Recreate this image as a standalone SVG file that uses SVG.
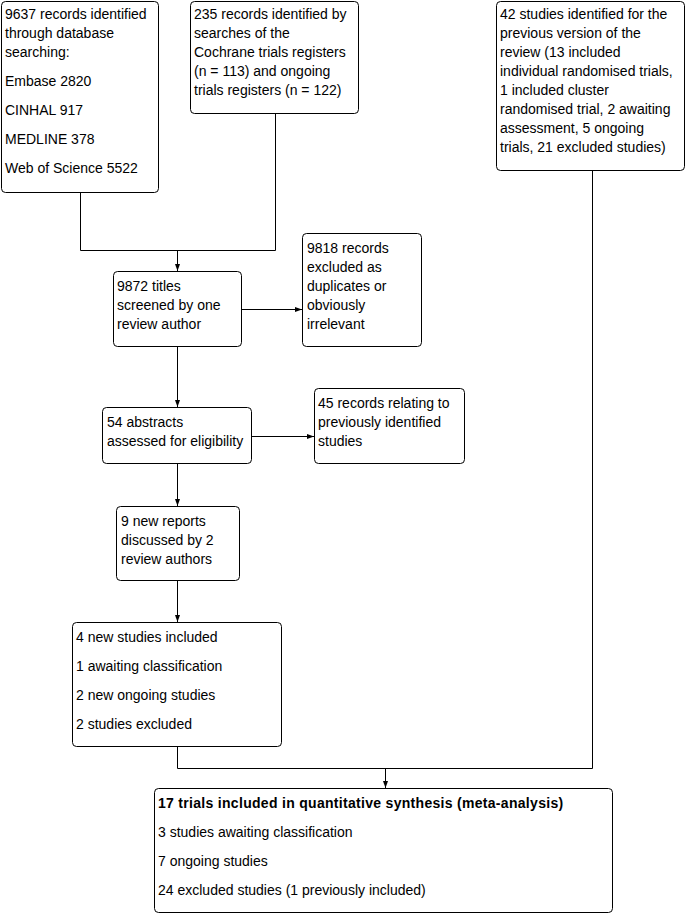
<svg xmlns="http://www.w3.org/2000/svg" width="686" height="914" viewBox="0 0 686 914">
<defs>
<style>
.box{fill:#fff;stroke:#000;stroke-width:1}
.t{font-family:"Liberation Sans",Arial,sans-serif;font-size:14px;fill:#000}
.b{font-weight:bold;letter-spacing:0.3px}
.c{fill:none;stroke:#000;stroke-width:1}
</style>
<marker id="ah" markerUnits="userSpaceOnUse" markerWidth="8" markerHeight="8" viewBox="0 0 8 8" refX="7" refY="4" orient="auto">
<path d="M0,1.5 L7,4 L0,6.5 Z" fill="#000"/>
</marker>
</defs>
<rect width="686" height="914" fill="#fff"/>
<g id="connectors">
<path class="c" d="M80.5 192.5 V250.5 H275.5 V113.5"/>
<path class="c" d="M177.5 250.5 V271" marker-end="url(#ah)"/>
<path class="c" d="M241.5 309.5 H302" marker-end="url(#ah)"/>
<path class="c" d="M177.5 346.5 V407" marker-end="url(#ah)"/>
<path class="c" d="M251.5 436.5 H314" marker-end="url(#ah)"/>
<path class="c" d="M177.5 463.5 V506" marker-end="url(#ah)"/>
<path class="c" d="M177.5 580.5 V622" marker-end="url(#ah)"/>
<path class="c" d="M177.5 746.5 V768.5 H592.5 V170.5"/>
<path class="c" d="M385.5 768.5 V788" marker-end="url(#ah)"/>
</g>
<g id="n1">
<rect class="box" x="1.5" y="1.5" width="157" height="191" rx="4"/>
<text class="t" x="5" y="19">9637 records identified</text>
<text class="t" x="5" y="38">through database</text>
<text class="t" x="5" y="57">searching:</text>
<text class="t" x="5" y="86">Embase 2820</text>
<text class="t" x="5" y="115">CINHAL 917</text>
<text class="t" x="5" y="144">MEDLINE 378</text>
<text class="t" x="5" y="173">Web of Science 5522</text>
</g>
<g id="n2">
<rect class="box" x="190.5" y="1.5" width="168" height="112" rx="4"/>
<text class="t" x="194" y="19">235 records identified by</text>
<text class="t" x="194" y="38">searches of the</text>
<text class="t" x="194" y="57">Cochrane trials registers</text>
<text class="t" x="194" y="76">(n = 113) and ongoing</text>
<text class="t" x="194" y="95">trials registers (n = 122)</text>
</g>
<g id="n3">
<rect class="box" x="496.5" y="1.5" width="188" height="169" rx="4"/>
<text class="t" x="500" y="19">42 studies identified for the</text>
<text class="t" x="500" y="38">previous version of the</text>
<text class="t" x="500" y="57">review (13 included</text>
<text class="t" x="500" y="76">individual randomised trials,</text>
<text class="t" x="500" y="95">1 included cluster</text>
<text class="t" x="500" y="114">randomised trial, 2 awaiting</text>
<text class="t" x="500" y="133">assessment, 5 ongoing</text>
<text class="t" x="500" y="152">trials, 21 excluded studies)</text>
</g>
<g id="n4">
<rect class="box" x="113.5" y="271.5" width="128" height="75" rx="4"/>
<text class="t" x="117" y="291">9872 titles</text>
<text class="t" x="117" y="310">screened by one</text>
<text class="t" x="117" y="329">review author</text>
</g>
<g id="n5">
<rect class="box" x="302.5" y="233.5" width="119" height="113" rx="4"/>
<text class="t" x="307" y="253">9818 records</text>
<text class="t" x="307" y="272">excluded as</text>
<text class="t" x="307" y="291">duplicates or</text>
<text class="t" x="307" y="310">obviously</text>
<text class="t" x="307" y="329">irrelevant</text>
</g>
<g id="n6">
<rect class="box" x="102.5" y="407.5" width="149" height="56" rx="4"/>
<text class="t" x="107" y="427">54 abstracts</text>
<text class="t" x="107" y="446">assessed for eligibility</text>
</g>
<g id="n7">
<rect class="box" x="314.5" y="388.5" width="150" height="75" rx="4"/>
<text class="t" x="318" y="408">45 records relating to</text>
<text class="t" x="318" y="427">previously identified</text>
<text class="t" x="318" y="446">studies</text>
</g>
<g id="n8">
<rect class="box" x="116.5" y="506.5" width="123" height="74" rx="4"/>
<text class="t" x="121" y="526">9 new reports</text>
<text class="t" x="121" y="545">discussed by 2</text>
<text class="t" x="121" y="564">review authors</text>
</g>
<g id="n9">
<rect class="box" x="72.5" y="622.5" width="209" height="124" rx="4"/>
<text class="t" x="76" y="642">4 new studies included</text>
<text class="t" x="76" y="671">1 awaiting classification</text>
<text class="t" x="76" y="700">2 new ongoing studies</text>
<text class="t" x="76" y="729">2 studies excluded</text>
</g>
<g id="n10">
<rect class="box" x="154.5" y="788.5" width="458" height="124" rx="4"/>
<text class="t b" x="158" y="808">17 trials included in quantitative synthesis (meta-analysis)</text>
<text class="t" x="158" y="837">3 studies awaiting classification</text>
<text class="t" x="158" y="866">7 ongoing studies</text>
<text class="t" x="158" y="895">24 excluded studies (1 previously included)</text>
</g>
</svg>
